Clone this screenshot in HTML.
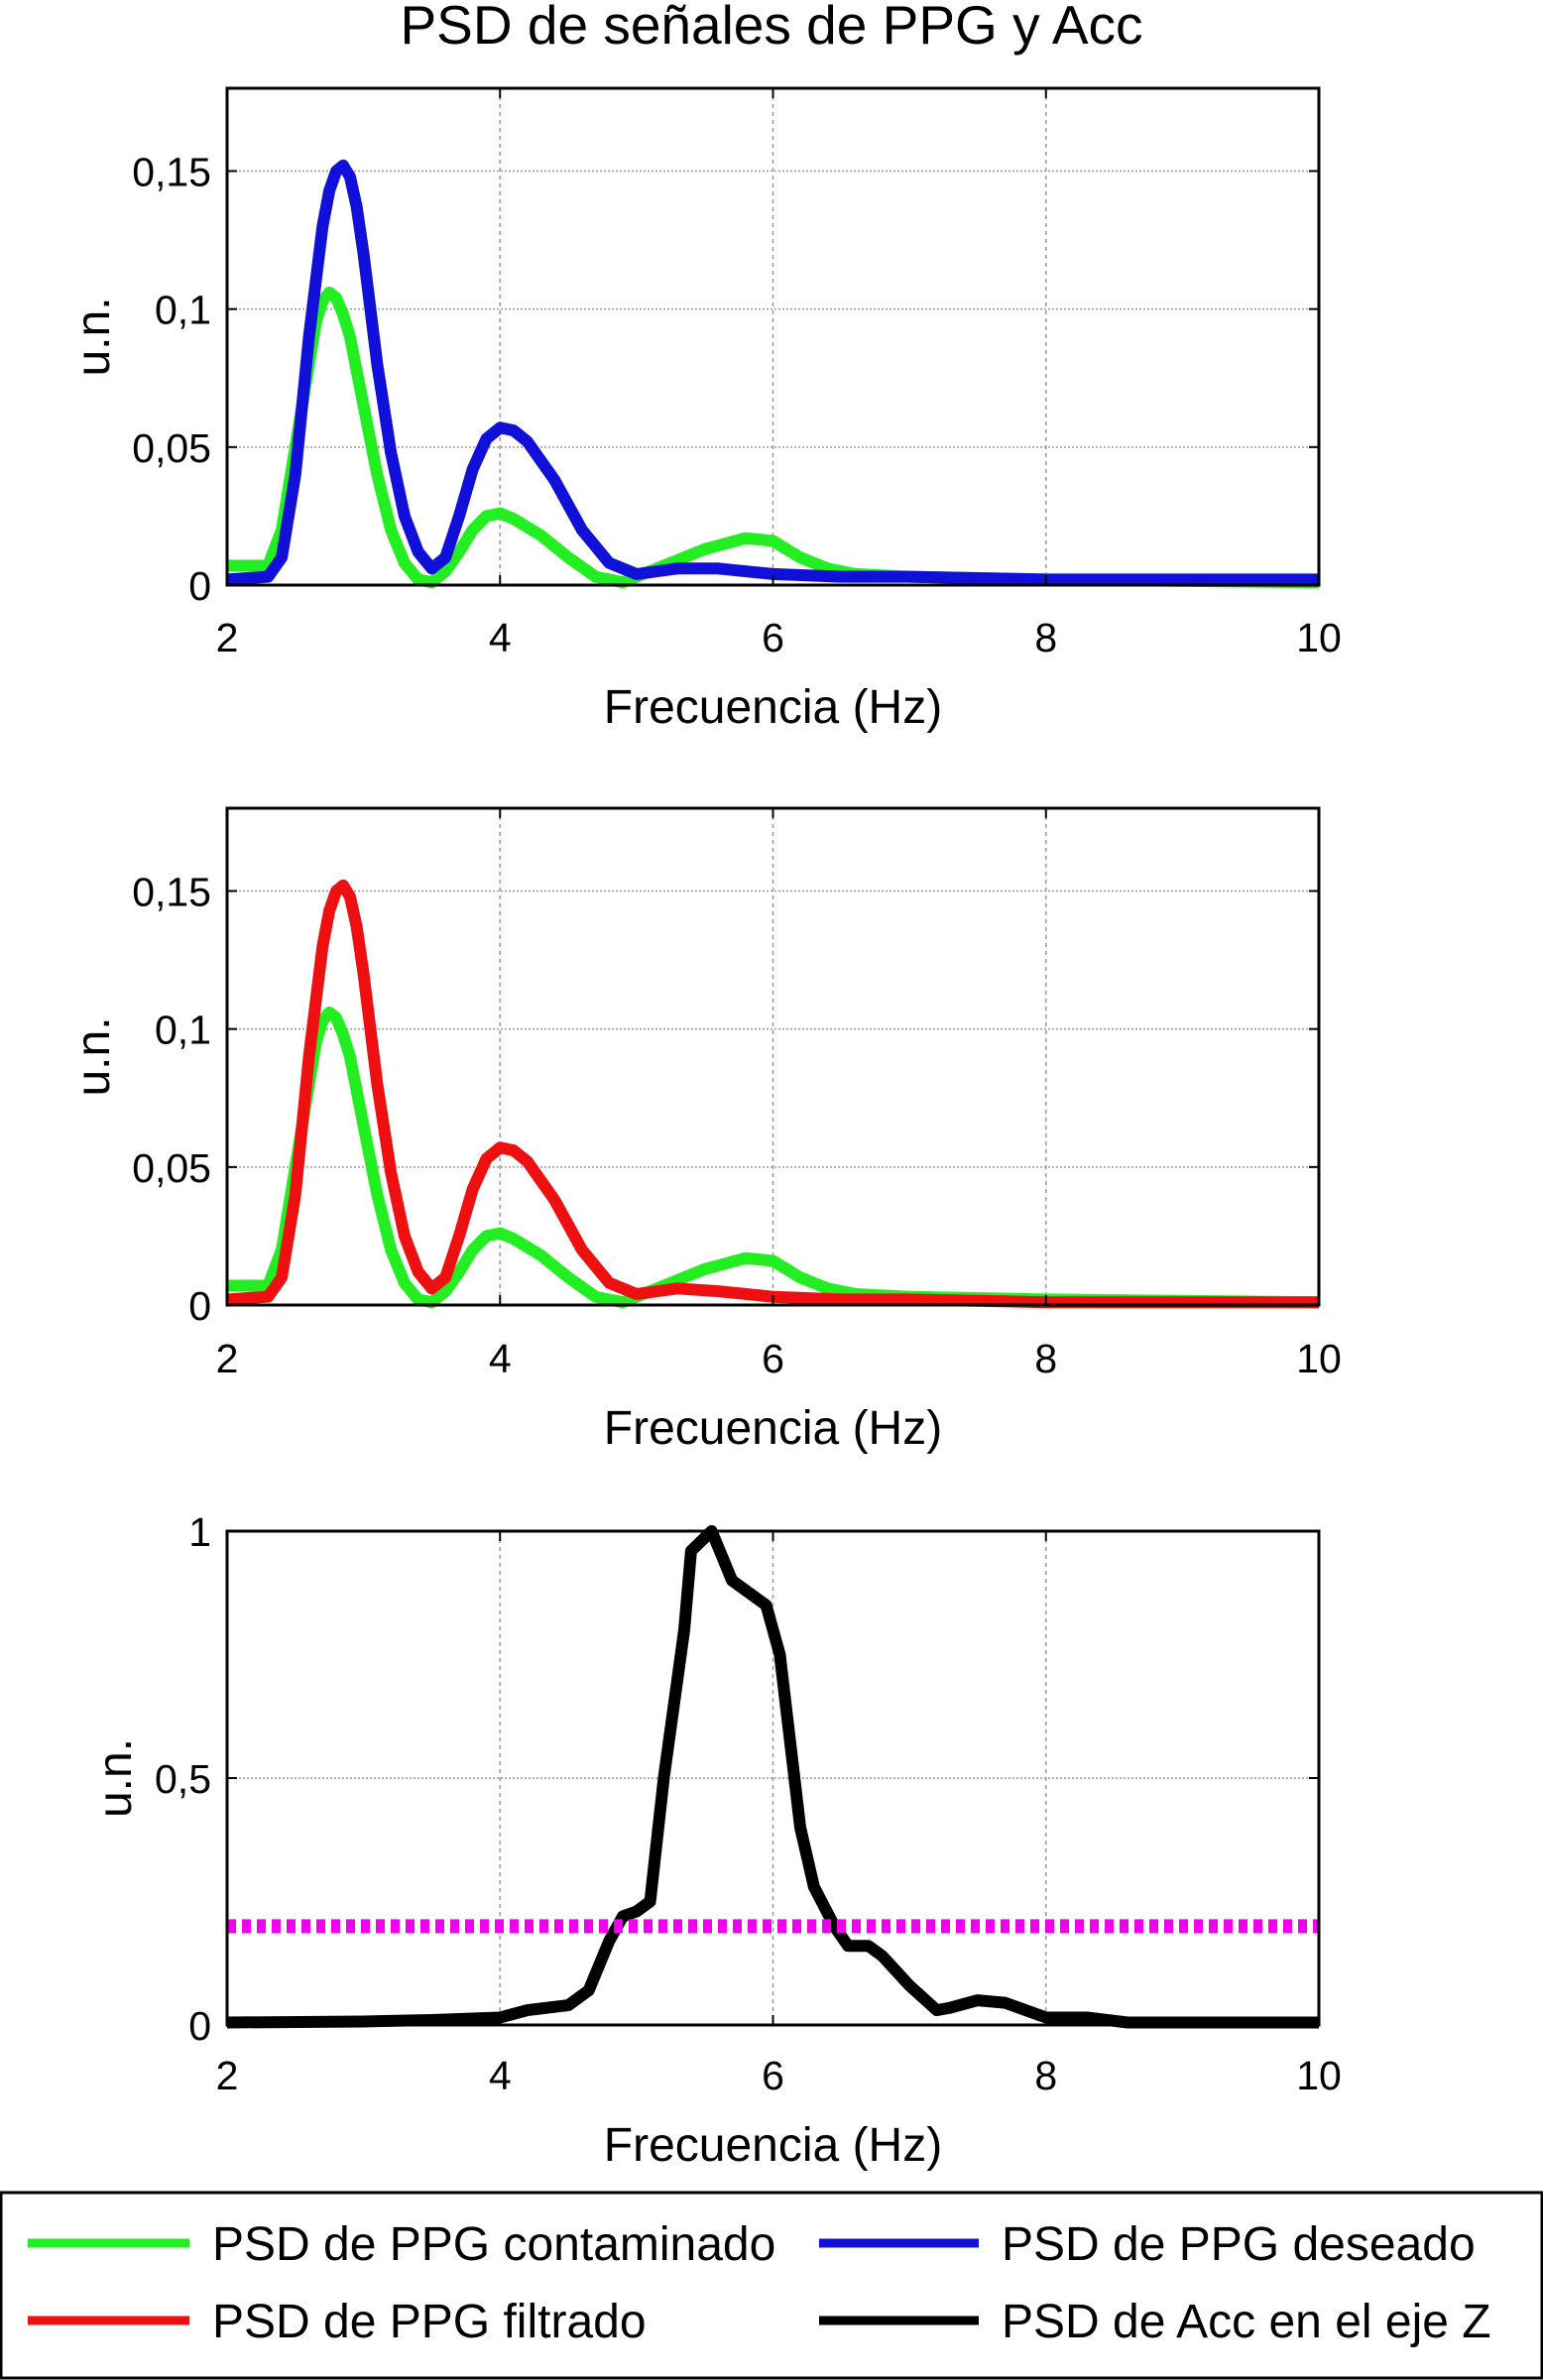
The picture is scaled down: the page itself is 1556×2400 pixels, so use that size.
<!DOCTYPE html>
<html><head><meta charset="utf-8"><style>
html,body{margin:0;padding:0;background:#fff;}
svg{display:block;font-family:"Liberation Sans",sans-serif;}
</style></head><body>
<svg id="fig" width="1556" height="2400" viewBox="0 0 1556 2400" xmlns="http://www.w3.org/2000/svg">
<text x="778" y="44" text-anchor="middle" font-size="55">PSD de señales de PPG y Acc</text>
<g id="plots"></g>
<g>
<rect x="1" y="2211" width="1554" height="187" fill="#fff" stroke="#000" stroke-width="3"/>
<g><line x1="28" y1="2262" x2="191" y2="2262" stroke="#22ee22" stroke-width="9"/><text x="214" y="2279" font-size="48">PSD de PPG contaminado</text></g>
<g><line x1="826" y1="2262" x2="987" y2="2262" stroke="#1010d8" stroke-width="9"/><text x="1010" y="2279" font-size="48">PSD de PPG deseado</text></g>
<g><line x1="28" y1="2340" x2="191" y2="2340" stroke="#ee1010" stroke-width="9"/><text x="214" y="2357" font-size="48">PSD de PPG filtrado</text></g>
<g><line x1="826" y1="2340" x2="987" y2="2340" stroke="#000" stroke-width="9"/><text x="1010" y="2357" font-size="48">PSD de Acc en el eje Z</text></g>
</g>
</svg>
<script>
const xTicks = [2,4,6,8,10];
const yTicksPPG = [0,0.05,0.1,0.15];
const yTickLabelsPPG = ["0","0,05","0,1","0,15"];
const yTicksAcc = [0,0.5,1];
const yTickLabelsAcc = ["0","0,5","1"];
const greenF = [2.0,2.3,2.4,2.5,2.6,2.65,2.7,2.75,2.8,2.85,2.9,3.0,3.1,3.2,3.3,3.4,3.5,3.6,3.7,3.8,3.9,4.0,4.1,4.3,4.5,4.7,4.9,5.0,5.2,5.5,5.8,6.0,6.2,6.4,6.6,7.0,8.0,10.0];
const greenV = [0.007,0.007,0.02,0.05,0.08,0.095,0.103,0.106,0.104,0.098,0.09,0.065,0.04,0.02,0.008,0.002,0.001,0.005,0.012,0.02,0.025,0.026,0.024,0.018,0.01,0.003,0.001,0.003,0.007,0.013,0.017,0.016,0.01,0.006,0.004,0.003,0.002,0.001];
const blueF = [2.0,2.3,2.4,2.5,2.6,2.7,2.75,2.8,2.85,2.9,2.95,3.0,3.1,3.2,3.3,3.4,3.5,3.6,3.7,3.8,3.9,4.0,4.1,4.2,4.4,4.6,4.8,5.0,5.3,5.6,6.0,6.5,7.0,8.0,10.0];
const blueV = [0.002,0.003,0.01,0.04,0.09,0.13,0.143,0.15,0.152,0.148,0.137,0.12,0.08,0.048,0.025,0.012,0.006,0.01,0.025,0.042,0.053,0.057,0.056,0.052,0.038,0.02,0.008,0.004,0.006,0.006,0.004,0.003,0.003,0.002,0.002];
const redF = [2.0,2.3,2.4,2.5,2.6,2.7,2.75,2.8,2.85,2.9,2.95,3.0,3.1,3.2,3.3,3.4,3.5,3.6,3.7,3.8,3.9,4.0,4.1,4.2,4.4,4.6,4.8,5.0,5.3,5.6,6.0,6.5,7.0,8.0,10.0];
const redV = [0.002,0.003,0.01,0.04,0.09,0.13,0.143,0.15,0.152,0.148,0.137,0.12,0.08,0.048,0.025,0.012,0.006,0.01,0.025,0.042,0.053,0.057,0.056,0.052,0.038,0.02,0.008,0.004,0.006,0.005,0.003,0.002,0.002,0.001,0.001];
const accF = [2,3,3.5,4,4.2,4.5,4.65,4.8,4.9,5.0,5.1,5.2,5.35,5.4,5.55,5.7,5.85,5.95,6.05,6.2,6.3,6.45,6.55,6.7,6.8,7.0,7.2,7.3,7.5,7.7,7.9,8.0,8.3,8.6,10];
const accV = [0.005,0.007,0.01,0.015,0.03,0.04,0.07,0.17,0.22,0.23,0.25,0.5,0.8,0.96,1.0,0.9,0.87,0.85,0.75,0.4,0.28,0.2,0.16,0.16,0.14,0.08,0.03,0.035,0.05,0.045,0.025,0.015,0.015,0.005,0.005];
const threshold = [0.2];

const NS = "http://www.w3.org/2000/svg";
const root = document.getElementById('plots');
function mk(tag, attrs, parent){const e=document.createElementNS(NS,tag);for(const k in attrs)e.setAttribute(k,attrs[k]);parent.appendChild(e);return e;}
const X0=229, X1=1330;
function xs(f){return X0+(f-2)/8*(X1-X0);}

function panel(name, top, bottom, ymax, yt, ytl, ylabX, series, xtY, xlY){
  const g=mk('g',{},root);
  
  
  const ys=v=>bottom-v/ymax*(bottom-top);
  xTicks.forEach(t=>{ if(t>2&&t<10){const l=mk('line',{x1:xs(t),x2:xs(t),y1:top,y2:bottom,stroke:'#999','stroke-width':1.5,'stroke-dasharray':'4 4'},g);
    
    }});
  yt.forEach(t=>{ if(t>0&&t<ymax){const l=mk('line',{x1:X0,x2:X1,y1:ys(t),y2:ys(t),stroke:'#999','stroke-width':1.5,'stroke-dasharray':'2 2'},g);
    
    }});
  series.forEach(s=>{
    const d=s.f.map((f,i)=>(i?'L':'M')+xs(f).toFixed(1)+' '+ys(s.v[i]).toFixed(1)).join(' ');
    const p=mk('path',{d:d,fill:'none',stroke:s.c,'stroke-width':s.w||12,'stroke-linejoin':'round','stroke-dasharray':s.dash||'none'},g);
    
    
  });
  const fr=mk('rect',{x:X0,y:top,width:X1-X0,height:bottom-top,fill:'none',stroke:'#000','stroke-width':3},g);
  
  
  xTicks.forEach(t=>{
    mk('line',{x1:xs(t),x2:xs(t),y1:bottom,y2:bottom-10,stroke:'#000','stroke-width':2},g);
    mk('line',{x1:xs(t),x2:xs(t),y1:top,y2:top+10,stroke:'#000','stroke-width':2},g);
    const tx=mk('text',{x:xs(t),y:xtY,'text-anchor':'middle','font-size':41},g);
    tx.textContent=t;
    
    
  });
  yt.forEach((t,i)=>{
    mk('line',{x1:X0,x2:X0+10,y1:ys(t),y2:ys(t),stroke:'#000','stroke-width':2},g);
    mk('line',{x1:X1,x2:X1-10,y1:ys(t),y2:ys(t),stroke:'#000','stroke-width':2},g);
    const tx=mk('text',{x:X0-16,y:ys(t)+15,'text-anchor':'end','font-size':41},g);
    tx.textContent=ytl[i];
    
    
  });
  const xl=mk('text',{x:(X0+X1)/2,y:xlY,'text-anchor':'middle','font-size':48},g);
  xl.textContent='Frecuencia (Hz)';
  
  
  const yl=mk('text',{x:0,y:0,'text-anchor':'middle','font-size':48,transform:`translate(${ylabX},${(top+bottom)/2}) rotate(-90)`},g);
  yl.textContent='u.n.';
  
  
}
panel('ppg-deseado-panel',89,590,0.18,yTicksPPG,yTickLabelsPPG,110,
  [{f:greenF,v:greenV,c:'#22ee22',n:'series-contaminado'},{f:blueF,v:blueV,c:'#1010d8',n:'series-deseado'}],657,729);
panel('ppg-filtrado-panel',815,1316,0.18,yTicksPPG,yTickLabelsPPG,110,
  [{f:greenF,v:greenV,c:'#22ee22',n:'series-contaminado'},{f:redF,v:redV,c:'#ee1010',n:'series-filtrado'}],1384,1456);
panel('acc-panel',1544,2042,1,yTicksAcc,yTickLabelsAcc,132,
  [{f:accF,v:accV,c:'#000',n:'series-acc'},{f:[2,10],v:[threshold[0],threshold[0]],c:'#ee00ee',w:14,dash:'9 6',n:'threshold-line'}],2107,2179);
</script>
</body></html>
